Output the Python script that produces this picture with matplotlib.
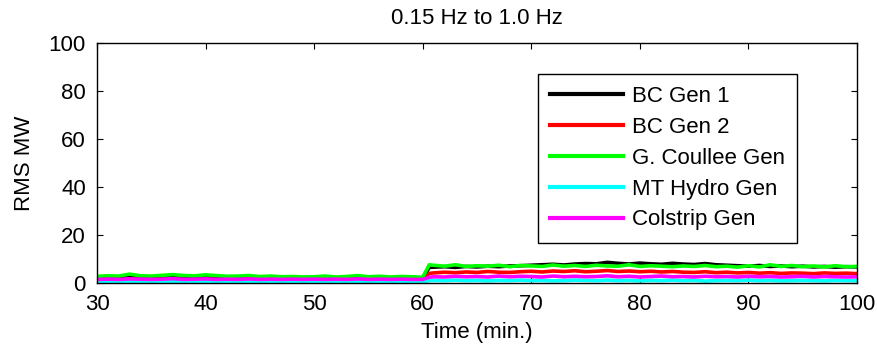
import matplotlib.pyplot as plt

plt.rcParams['font.family'] = ['Liberation Sans', 'DejaVu Sans']

# time in minutes (extra point just after 60 for the step)
t = list(range(30, 61)) + [60.6] + list(range(61, 101))

bc_gen1 = [2.3, 2.5, 2.2, 2.6, 2.4, 2.3, 2.5, 2.7, 2.4, 2.3, 2.6, 2.4, 2.2, 2.3, 2.8, 2.2, 2.3, 2.1, 2.2, 2.0, 2.2, 2.3, 2.1, 2.2, 2.4, 2.1, 2.3, 2.0, 2.2, 2.1, 2.0,
           6.5, 6.6, 6.8, 6.5, 6.9, 6.7, 7.0, 6.8, 7.1, 7.2, 7.4, 7.6, 7.8, 7.5, 7.9, 8.1, 8.0, 8.6, 8.2, 7.9, 8.3, 8.0, 7.8, 8.2, 7.9, 7.7, 8.1, 7.6, 7.4, 7.2, 7.0, 7.3, 6.9, 7.1, 6.8, 7.0, 6.7, 6.9, 6.6, 6.8, 6.7]
bc_gen2 = [1.4, 1.5, 1.3, 1.6, 1.5, 1.4, 1.5, 1.6, 1.4, 1.3, 1.5, 1.4, 1.3, 1.4, 1.5, 1.3, 1.4, 1.2, 1.3, 1.2, 1.3, 1.4, 1.2, 1.3, 1.4, 1.2, 1.3, 1.2, 1.3, 1.2, 1.2,
           4.0, 4.2, 4.5, 4.3, 4.6, 4.4, 4.8, 4.5, 4.4, 4.7, 4.9, 4.6, 5.0, 4.8, 5.1, 4.7, 4.9, 5.2, 4.8, 5.0, 4.7, 4.9, 4.6, 4.8, 4.5, 4.4, 4.7, 4.3, 4.5, 4.2, 4.4, 4.1, 4.3, 4.0, 4.2, 4.1, 3.9, 4.2, 4.0, 4.1, 3.9]
gc_gen = [2.8, 3.0, 2.9, 3.7, 3.0, 2.9, 3.2, 3.5, 3.1, 3.0, 3.4, 3.1, 2.8, 2.9, 3.1, 2.7, 2.9, 2.6, 2.7, 2.5, 2.6, 2.9, 2.5, 2.7, 3.1, 2.6, 2.8, 2.5, 2.7, 2.6, 2.4,
          7.6, 7.4, 7.0, 7.6, 6.9, 7.2, 7.0, 7.4, 6.8, 7.3, 7.1, 6.9, 7.5, 7.0, 7.3, 6.9, 7.4, 7.1, 7.0, 7.6, 6.9, 7.2, 7.0, 6.8, 7.1, 6.9, 7.3, 6.8, 7.0, 6.6, 7.2, 6.7, 7.6, 6.9, 7.3, 6.8, 7.1, 6.7, 7.2, 6.8, 6.9]
mt_hydro = [0.5, 0.6, 0.5, 0.6, 0.5, 0.5, 0.6, 0.5, 0.6, 0.5, 0.5, 0.6, 0.5, 0.5, 0.6, 0.5, 0.5, 0.6, 0.5, 0.5, 0.6, 0.5, 0.5, 0.6, 0.5, 0.5, 0.6, 0.5, 0.5, 0.6, 0.5,
            1.0, 1.1, 1.0, 1.2, 1.0, 1.1, 0.9, 1.1, 1.0, 1.2, 1.0, 1.1, 0.9, 1.0, 1.2, 1.1, 1.0, 1.2, 1.0, 1.1, 0.9, 1.1, 1.0, 1.2, 1.0, 1.1, 0.8, 1.0, 1.1, 1.0, 1.2, 1.0, 1.1, 0.9, 1.0, 1.1, 1.0, 0.9, 1.1, 1.0, 1.0]
colstrip = [1.5, 1.6, 1.5, 1.7, 1.6, 1.5, 1.6, 1.8, 1.5, 1.6, 1.7, 1.5, 1.6, 1.5, 1.7, 1.5, 1.6, 1.5, 1.6, 1.5, 1.6, 1.5, 1.6, 1.5, 1.7, 1.5, 1.6, 1.5, 1.6, 1.5, 1.5,
            2.4, 2.6, 2.5, 2.8, 2.6, 2.7, 2.5, 2.9, 2.6, 2.8, 2.7, 2.5, 2.9, 2.6, 2.8, 2.6, 2.7, 3.0, 2.6, 2.8, 2.5, 2.7, 2.9, 2.6, 2.7, 2.5, 2.8, 2.6, 2.7, 2.5, 2.8, 2.6, 2.7, 2.5, 2.6, 2.8, 2.5, 2.7, 2.6, 2.5, 2.6]

labels = ['BC Gen 1', 'BC Gen 2', 'G. Coullee Gen', 'MT Hydro Gen', 'Colstrip Gen']
colors = ['#000000', '#ff0000', '#00ff00', '#00ffff', '#ff00ff']

fig = plt.figure(figsize=(8.77, 3.5), dpi=100)
ax = fig.add_axes([0.1106, 0.1914, 0.8666, 0.6857])

for y, lab, c in zip([bc_gen1, bc_gen2, gc_gen, mt_hydro, colstrip], labels, colors):
    ax.plot(t, y, color=c, lw=2.6, label=lab)

ax.set_xlim(30, 100)
ax.set_ylim(0, 100)
ax.set_xticks(range(30, 101, 10))
ax.set_yticks(range(0, 101, 20))
ax.tick_params(direction='in', top=True, right=True, labelsize=16, length=4, width=0.8)
ax.tick_params(axis='x', pad=8)
ax.tick_params(axis='y', pad=8)
for s in ax.spines.values():
    s.set_linewidth(1.0)

ax.set_xlabel('Time (min.)', fontsize=16, labelpad=5)
ax.set_ylabel('RMS MW', fontsize=16, labelpad=10)
ax.set_title('0.15 Hz to 1.0 Hz', fontsize=16, pad=14)

leg = ax.legend(loc='upper left', bbox_to_anchor=(0.58, 0.871), borderaxespad=0,
                fontsize=16, frameon=True, fancybox=False, edgecolor='black',
                framealpha=1, handlelength=3.3, handletextpad=0.4,
                labelspacing=0.44, borderpad=0.55)
leg.get_frame().set_linewidth(1.0)
for h in leg.get_lines():
    h.set_linewidth(3)

fig.savefig('out.png', dpi=100)
